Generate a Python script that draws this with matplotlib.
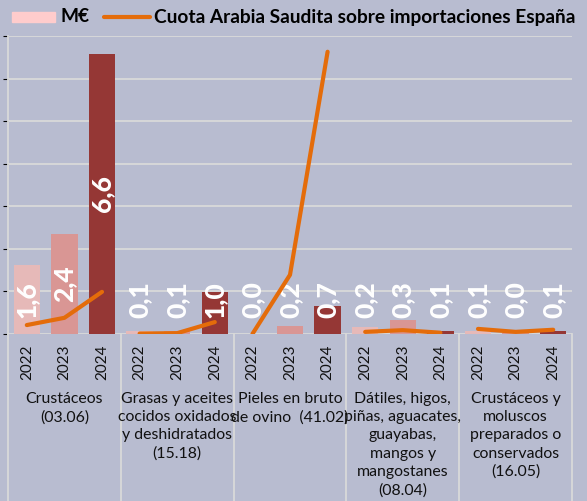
import matplotlib
matplotlib.use('Agg')
import matplotlib.pyplot as plt
from matplotlib.patches import Rectangle
from matplotlib.lines import Line2D
import numpy as np

grupos = ["Crustáceos\n(03.06)",
          "Grasas y aceites\ncocidos oxidados\ny deshidratados\n(15.18)",
          "Pieles en bruto\nde ovino  (41.02)",
          "Dátiles, higos,\npiñas, aguacates,\nguayabas,\nmangos y\nmangostanes\n(08.04)",
          "Crustáceos y\nmoluscos\npreparados o\nconservados\n(16.05)"]
anios = ["2022", "2023", "2024"]
# M€ (bars), one value per group/year
valores = [1.62, 2.35, 6.58,
           0.06, 0.08, 0.99,
           0.01, 0.18, 0.65,
           0.16, 0.32, 0.08,
           0.07, 0.02, 0.08]
# Cuota Arabia Saudita sobre importaciones España (%)
cuota = [2.1, 3.8, 9.9,
         0.1, 0.2, 2.8,
         0.0, 13.9, 66.3,
         0.5, 0.9, 0.3,
         1.2, 0.5, 1.0]

bar_colors = ['#E6B9B8', '#D99694', '#953735']
BG = '#B8BCD0'
GRID = '#D9D9D9'
ORANGE = '#E46C0A'
FONT = 'Lato'

W, H = 587, 501
fig = plt.figure(figsize=(W / 100, H / 100), dpi=100, facecolor=BG)
ax = fig.add_axes([8 / W, 167 / H, 564 / W, 298 / H])
ax.set_facecolor(BG)

n = len(valores)
x = np.arange(n)
ax.bar(x, valores, width=0.7, color=[bar_colors[i % 3] for i in range(n)], zorder=2)
ax.set_xlim(-0.5, n - 0.5)
ax.set_ylim(0, 7)
ax.set_yticks(range(0, 8))
ax.yaxis.grid(True, color=GRID, lw=1.3)
ax.set_axisbelow(True)
ax.tick_params(left=False, labelleft=False, bottom=False, labelbottom=False)
for s in ['top', 'right', 'bottom']:
    ax.spines[s].set_visible(False)
ax.spines['left'].set_color(GRID)
ax.spines['left'].set_linewidth(1.3)

# data labels
for xi, v in zip(x, valores):
    lbl = f"{v:.1f}".replace('.', ',')
    ax.text(xi, max(v / 2, 0.8), lbl, rotation=90, ha='center', va='center',
            color='white', fontsize=19, fontweight='black', family=FONT, zorder=3)

# category table
tr = ax.get_xaxis_transform()
for b in np.arange(-0.5, n, 3):
    ax.plot([b, b], [0, -0.7], transform=tr, color=GRID, lw=1.3, clip_on=False)
for xi in x:
    ax.text(xi, -11 / 298, anios[xi % 3], transform=tr, rotation=90, ha='center',
            va='top', fontsize=11, family=FONT, color='#111111')
for g, lab in enumerate(grupos):
    ax.text(g * 3 + 1, -58 / 298, lab, transform=tr, ha='center', va='top',
            fontsize=11.4, family=FONT, linespacing=1.38, color='#111111')

# secondary axis (share)
ax2 = ax.twinx()
ax2.set_ylim(0, 70)
ax2.set_yticks(range(0, 71, 10))
ax2.set_yticklabels([f"{t}%" for t in range(0, 71, 10)])
ax2.tick_params(right=False, labelright=True, pad=13, labelsize=11)
for s in ax2.spines.values():
    s.set_visible(False)
for g in range(len(grupos)):
    sl = slice(g * 3, g * 3 + 3)
    ax2.plot(x[sl], cuota[sl], color=ORANGE, lw=3, solid_capstyle='round', zorder=4)

# legend
fig.add_artist(Rectangle((12 / W, 1 - 22 / H), 43 / W, 10 / H,
                         transform=fig.transFigure, color='#FFCCCC'))
fig.text(60 / W, 1 - 17 / H, "M€", fontsize=13.8, fontweight='bold', family=FONT,
         va='center', ha='left')
fig.add_artist(Line2D([104 / W, 150 / W], [1 - 17 / H, 1 - 17 / H],
                      transform=fig.transFigure, color=ORANGE, lw=3,
                      solid_capstyle='round'))
fig.text(154 / W, 1 - 17 / H, "Cuota Arabia Saudita sobre importaciones España",
         fontsize=13.8, fontweight='bold', family=FONT, va='center', ha='left')

fig.savefig('out.png', dpi=100, facecolor=BG)
